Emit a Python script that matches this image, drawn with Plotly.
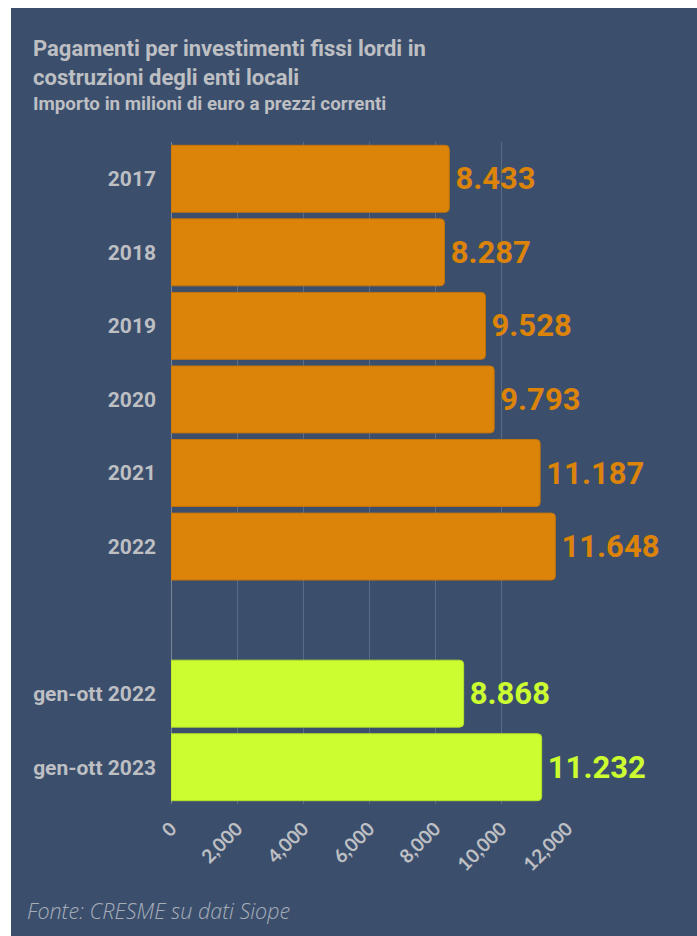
import plotly.graph_objects as go

# ---- data ----
annual_labels = ["2017", "2018", "2019", "2020", "2021", "2022"]
annual_values = [8433, 8287, 9528, 9793, 11187, 11648]
partial_labels = ["gen-ott 2022", "gen-ott 2023"]
partial_values = [8868, 11232]
spacer_label = " "
category_order = annual_labels + [spacer_label] + partial_labels
x_tick_values = [0, 2000, 4000, 6000, 8000, 10000, 12000]

title_text = "Pagamenti per investimenti fissi lordi in<br>costruzioni degli enti locali"
subtitle_text = "Importo in milioni di euro a prezzi correnti"
source_text = "Fonte: CRESME su dati Siope"


def it_fmt(v):
    return f"{v:,}".replace(",", ".")


BG = "#3B4F6D"
ORANGE = "#DC840A"
LIME = "#CCFD30"
GREY = "#BEBFC3"

W, H = 686, 928
L, R, T, B = 160, 130, 134, 132
PW, PH = W - L - R, H - T - B


def px_x(fx):
    return (fx - L) / PW


def px_y(fy):
    return (H - B - fy) / PH


fig = go.Figure()
fig.add_trace(go.Bar(
    y=annual_labels, x=annual_values, orientation="h",
    marker=dict(color=ORANGE, line=dict(color="#C2740A", width=1), cornerradius=4),
    width=0.91,
    text=[it_fmt(v) for v in annual_values],
    texttemplate="\u200a%{text}",
    textposition="outside", constraintext="none", cliponaxis=False,
    textfont=dict(family="Roboto", size=31, color=ORANGE, weight="bold"),
    showlegend=False, hoverinfo="skip",
))
fig.add_trace(go.Bar(
    y=partial_labels, x=partial_values, orientation="h",
    marker=dict(color=LIME, line=dict(color="#B4E02A", width=1), cornerradius=4),
    width=0.91,
    text=[it_fmt(v) for v in partial_values],
    texttemplate="\u200a%{text}",
    textposition="outside", constraintext="none", cliponaxis=False,
    textfont=dict(family="Roboto", size=31, color=LIME, weight="bold"),
    showlegend=False, hoverinfo="skip",
))

fig.update_layout(
    width=W, height=H,
    margin=dict(l=L, r=R, t=T, b=B, pad=0),
    paper_bgcolor=BG, plot_bgcolor=BG,
    barmode="overlay",
    xaxis=dict(
        range=[0, 12000], tickvals=x_tick_values, tickformat=",",
        tickangle=-45, showgrid=True, gridcolor="rgba(255,255,255,0.16)", gridwidth=1,
        zeroline=True, zerolinecolor="rgba(255,255,255,0.30)", zerolinewidth=1,
        showline=False, ticks="", ticklabelstandoff=9,
        tickfont=dict(family="Lato", size=19, color=GREY, weight="bold"),
    ),
    yaxis=dict(
        type="category", categoryorder="array", categoryarray=category_order,
        range=[len(category_order) - 0.5, -0.5],
        showgrid=False, zeroline=False, showline=False, ticks="",
        ticklabelstandoff=14,
        tickfont=dict(family="Roboto", size=21, color=GREY, weight="bold"),
    ),
    annotations=[
        dict(text=title_text, xref="paper", yref="paper", x=px_x(20), y=px_y(26),
             xanchor="left", yanchor="top", align="left", showarrow=False,
             font=dict(family="Roboto", size=22, color=GREY, weight="bold")),
        dict(text=subtitle_text, xref="paper", yref="paper", x=px_x(20), y=px_y(83),
             xanchor="left", yanchor="top", align="left", showarrow=False,
             font=dict(family="Roboto", size=18.8, color=GREY, weight="bold")),
        dict(text=source_text, xref="paper", yref="paper", x=px_x(14), y=px_y(886),
             xanchor="left", yanchor="top", align="left", showarrow=False,
             font=dict(family="Open Sans", size=21.5, color="#A8AEB9", style="italic", weight=300)),
    ],
)

fig.write_html(
    "out.html",
    post_script="document.body.style.margin='8px 0 0 11px';document.body.style.overflow='hidden';",
)
